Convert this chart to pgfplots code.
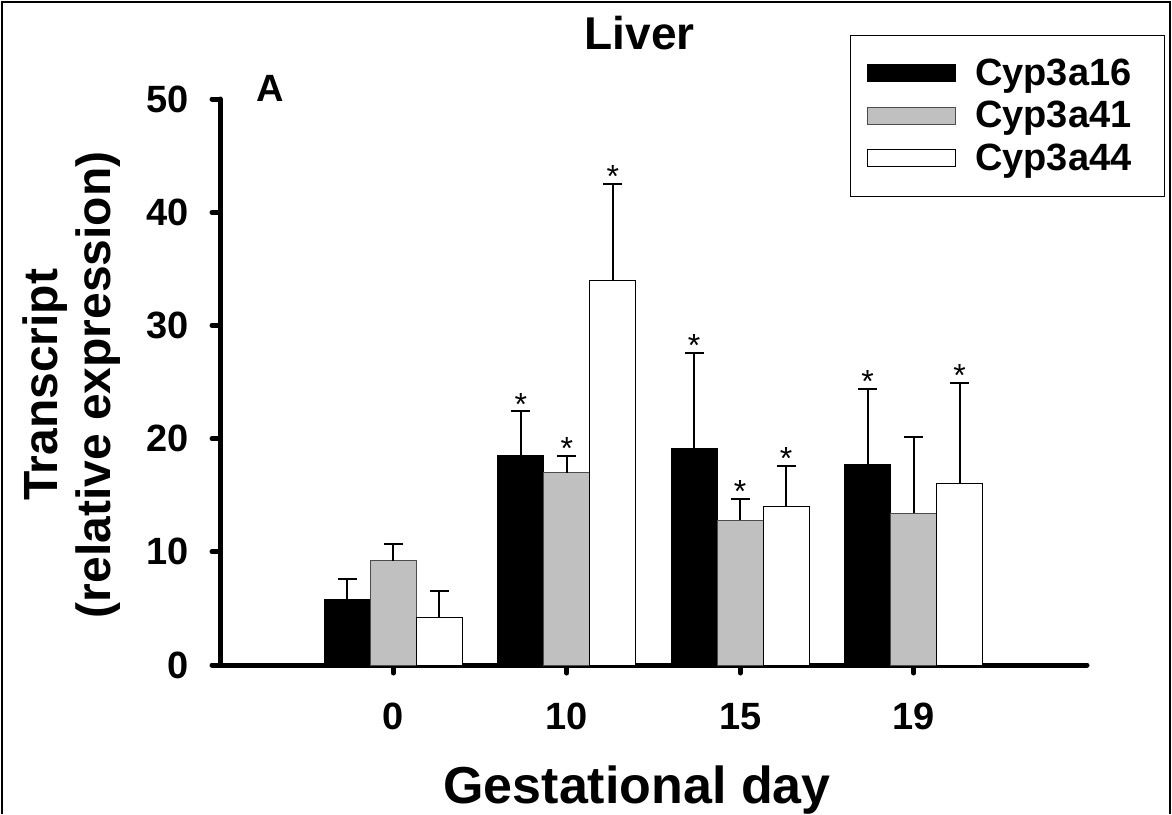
\documentclass[border=0pt]{standalone}
\usepackage{fontspec}
\setmainfont{Liberation Sans}
\usepackage{pgfplots}
\usepackage{pgfplotstable}
\pgfplotsset{compat=1.18}
\definecolor{bargray}{RGB}{192,192,192}
\pgfplotsset{
  barleg/.style={legend image code/.code={
      \draw[##1, line width=0.5pt] (0pt,-4.2pt) rectangle (44pt,4.3pt);
      \path (53.5pt,0pt);}},
  errs/.style={error bars/.cd, y dir=plus, y explicit,
      error bar style={line width=1pt, black},
      error mark options={rotate=90, line width=1pt, black, mark size=4.75pt}},
  star/.style={forget plot, only marks, mark=text, text mark={*},
      text mark as node=true,
      text mark style={anchor=south, inner sep=0pt, yshift=-2pt,
        font=\fontsize{16}{16}\selectfont}},
}

% Cyp3a16, Cyp3a41, Cyp3a44: mean and upper error, gestational day index
\pgfplotstableread{
x y e
0 5.8 1.8
1 18.5 3.9
2 19.1 8.5
3 17.7 6.7
}\cypA
\pgfplotstableread{
x y e
0 9.2 1.5
1 17.0 1.5
2 12.8 1.9
3 13.4 6.7
}\cypB
\pgfplotstableread{
x y e
0 4.2 2.3
1 34.0 8.5
2 14.0 3.6
3 16.0 8.9
}\cypC

\begin{document}
\begin{tikzpicture}
\useasboundingbox (0,0) rectangle (586pt,407pt);
\draw[line width=1.2pt] (1pt,0pt) -- (1pt,406pt) -- (585pt,406pt) -- (585pt,0pt);
\begin{axis}[
  at={(110pt,74.5pt)}, anchor=south west,
  scale only axis, width=433.5pt, height=283pt,
  xmin=-1, xmax=4, ymin=0, ymax=50,
  clip=false,
  axis x line*=bottom, axis y line*=left,
  axis line style={line width=2.5pt, line cap=round, -},
  xtick={0,1,2,3}, xticklabels={0,10,15,19},
  ytick={0,10,...,50},
  tick align=outside, major tick length=4pt,
  tick style={line width=2.5pt, line cap=round, black},
  ticklabel style={font=\fontsize{19}{19}\selectfont\bfseries},
  /pgf/number format/assume math mode=true,
  xticklabel style={yshift=-11.5pt},
  yticklabel style={xshift=-8pt},
  title={Liver},
  title style={at={(axis description cs:0.484,1.095)}, anchor=center,
    font=\fontsize{23}{23}\selectfont\bfseries},
  xlabel={Gestational day},
  xlabel style={at={(axis description cs:0.481,-0.221)}, anchor=center,
    font=\fontsize{26}{26}\selectfont\bfseries},
  ylabel={Transcript\\(relative expression)},
  ylabel style={at={(axis description cs:-0.171,0.495)}, anchor=center,
    align=center, font=\fontsize{24}{26.5}\selectfont\bfseries},
  legend style={at={(axis description cs:1.090,1.113)}, anchor=north east,
    draw=black, line width=0.6pt, inner xsep=8.5pt, inner ysep=11.5pt,
    row sep=6.5pt, font=\fontsize{19}{19}\selectfont\bfseries,
    nodes={inner sep=0pt}},
  legend cell align=left,
]
\addplot[ybar, bar width=23pt, bar shift=0pt, fill=black, draw=black,
  line width=0.5pt, barleg, errs]
  table[x expr=\thisrow{x}-0.2653, y=y, y error=e] {\cypA};
\addplot[ybar, bar width=23pt, bar shift=0pt, fill=bargray, draw=black!70,
  line width=0.5pt, barleg, errs]
  table[x=x, y=y, y error=e] {\cypB};
\addplot[ybar, bar width=23pt, bar shift=0pt, fill=white, draw=black,
  line width=0.5pt, barleg, errs]
  table[x expr=\thisrow{x}+0.2653, y=y, y error=e] {\cypC};
% significance stars at the top of the error bars
\addplot[star] table[x expr=\thisrow{x}-0.2653] {
x y
1 22.4
2 27.6
3 24.4
};
\addplot[star] table {
x y
1 18.5
2 14.7
};
\addplot[star] table[x expr=\thisrow{x}+0.2653] {
x y
1 42.5
2 17.6
3 24.9
};
\legend{Cyp3a16\hspace*{8pt}, Cyp3a41\hspace*{8pt}, Cyp3a44\hspace*{8pt}}
\node[font=\fontsize{19}{19}\selectfont\bfseries] at (axis description cs:0.058,1.019) {A};
\end{axis}
\end{tikzpicture}
\end{document}
